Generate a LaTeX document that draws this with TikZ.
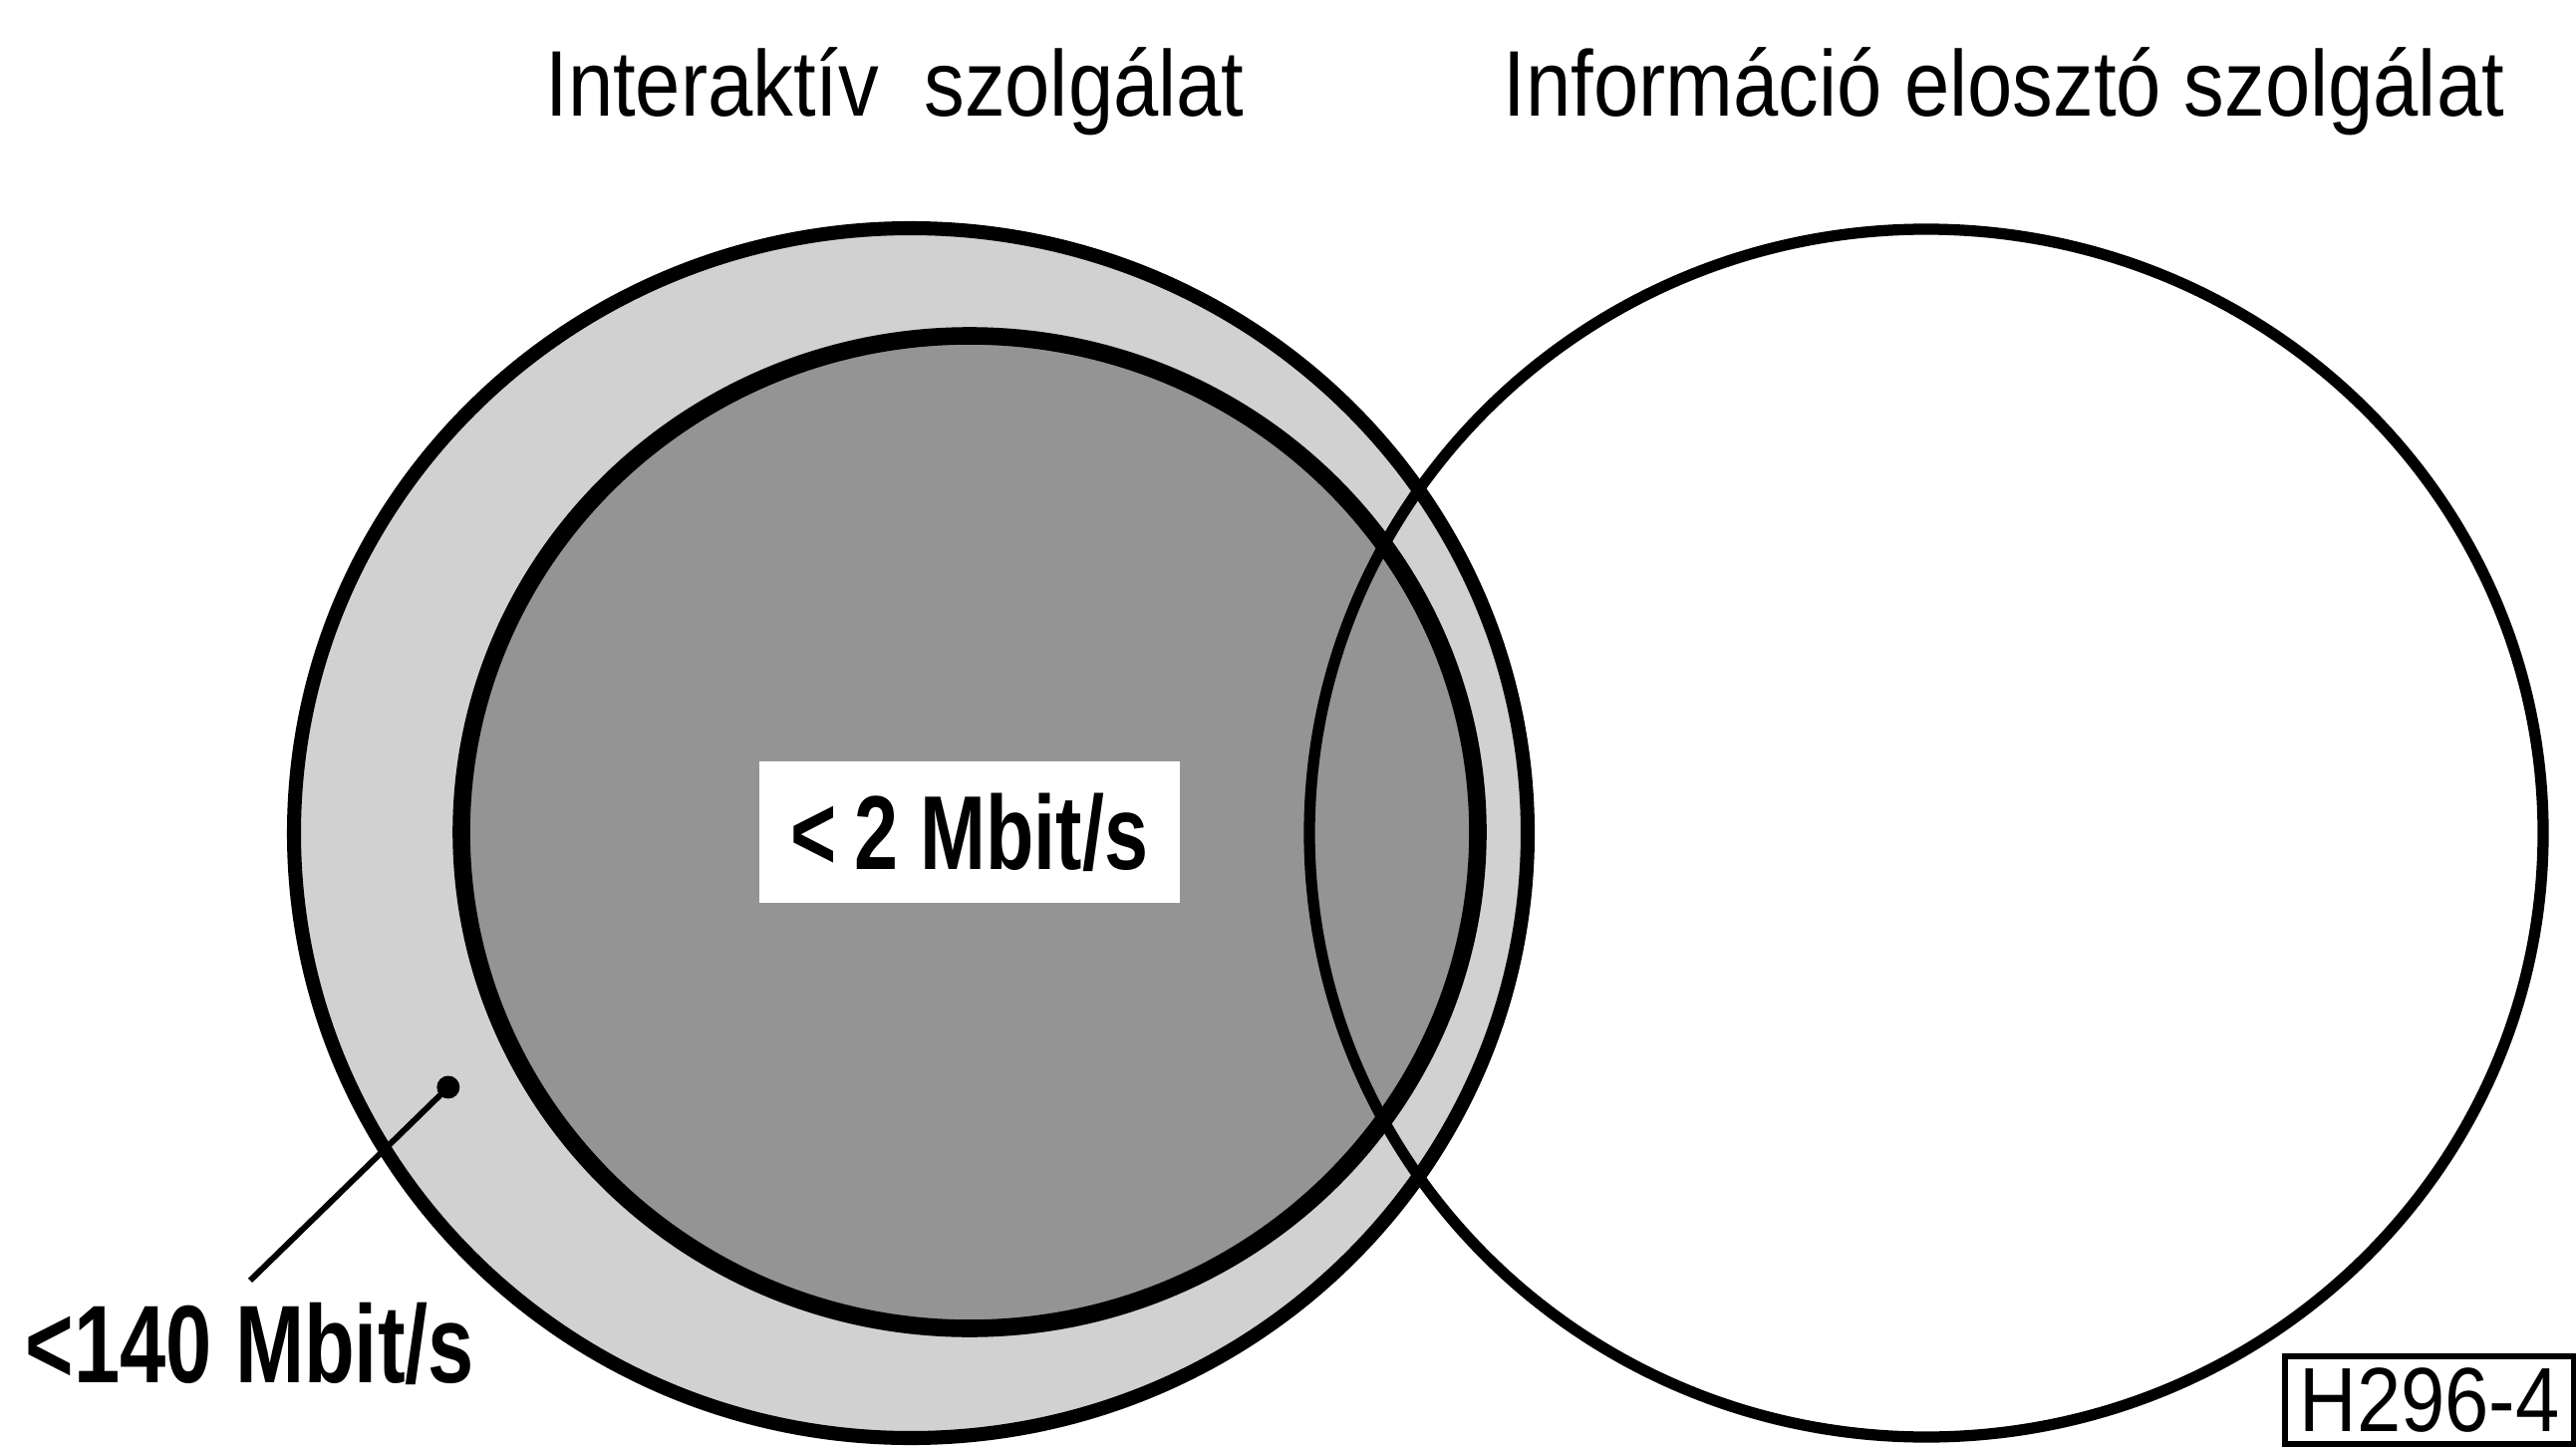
\documentclass[tikz,border=0pt]{standalone}
\usepackage{fontspec}
\setmainfont{Liberation Sans}
\newfontfamily\titlefont[FakeStretch=0.87]{Liberation Sans}
\newfontfamily\ratefont[FakeStretch=0.75]{Liberation Sans}
\usetikzlibrary{arrows.meta}
\begin{document}
\begin{tikzpicture}[x=0.01cm, y=-0.01cm,
  title/.style={anchor=base, font=\titlefont\fontsize{26.6}{30}\selectfont},
  rate/.style={font=\ratefont\bfseries\fontsize{30}{34}\selectfont},
  ring/.style={line width=4pt}]
  \useasboundingbox (0,0) rectangle (2585,1452);
  \coordinate (outer) at (914,836);
  \coordinate (inner) at (973,835);
  \coordinate (distr) at (1933,836);
  \filldraw[ring, fill=black!18] (outer) ellipse [x radius=619, y radius=607];
  \filldraw[ring, line width=5pt, fill=black!42] (inner) ellipse [x radius=510, y radius=498];
  \node[rate, fill=white, minimum width=4.22cm, minimum height=1.42cm] (slow) at (inner) {<\,2 Mbit/s};
  \draw[ring, line width=3.2pt] (distr) ellipse [x radius=619, y radius=606];
  \node[title] (inter) at (898,117) {Interaktív\ \ szolgálat};
  \node[title] (info) at (2011,117) {Információ elosztó szolgálat};
  \node[rate, font=\ratefont\bfseries\fontsize{31.5}{35}\selectfont, anchor=base, inner sep=6pt] (fast) at (251,1387) {<140 Mbit/s};
  \coordinate (ringpt) at (458,1083);
  \draw[line width=1.7pt, -{Circle[length=6.5pt, width=6.5pt]}] (fast.north) -- (ringpt);
  \node[draw, line width=1.5pt, minimum width=2.9cm, minimum height=0.86cm,
    font=\titlefont\fontsize{26}{28}\selectfont] (code) at (2438,1405) {H296-4};
\end{tikzpicture}
\end{document}
